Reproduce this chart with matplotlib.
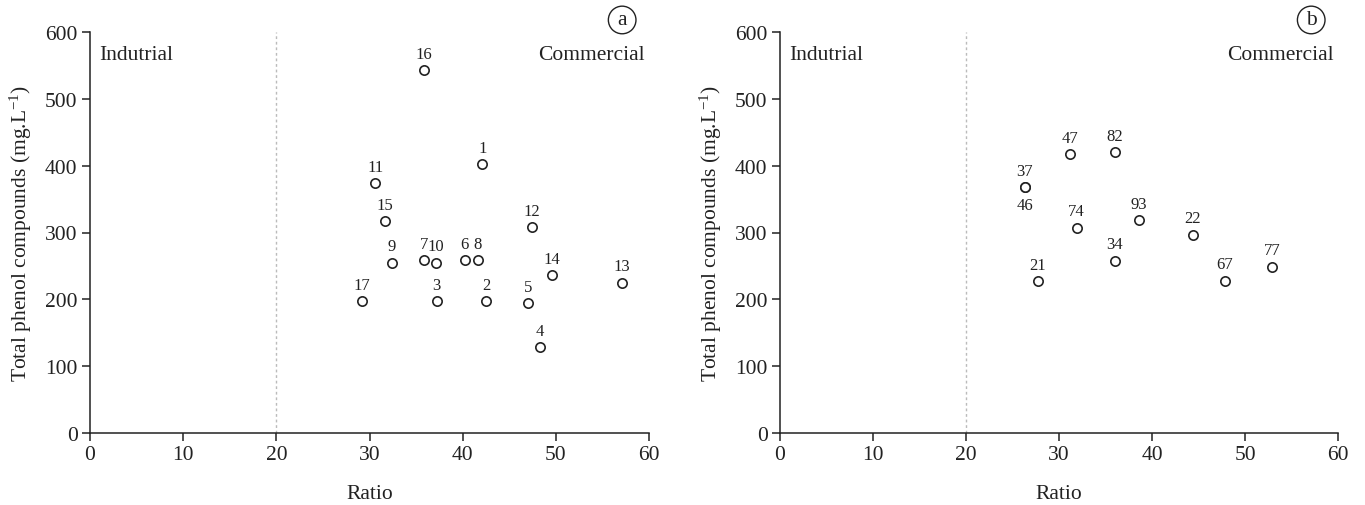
import matplotlib
matplotlib.use("Agg")
import matplotlib.pyplot as plt

plt.rcParams['font.family'] = ['Liberation Serif', 'DejaVu Serif']
plt.rcParams['mathtext.fontset'] = 'custom'
plt.rcParams['mathtext.rm'] = 'Liberation Serif'
plt.rcParams['mathtext.it'] = 'Liberation Serif:italic'

# Panel a
labels_a = ['1', '2', '3', '4', '5', '6', '7', '8', '9', '10', '11', '12', '13', '14', '15', '16', '17']
ratio_a = [42.1, 42.5, 37.2, 48.3, 47.0, 40.2, 35.85, 41.6, 32.4, 37.1, 30.6, 47.45, 57.1, 49.6, 31.7, 35.8, 29.2]
phenol_a = [402, 197, 197, 128, 194, 259, 259, 259, 255, 255, 374, 308, 225, 236, 317, 543, 197]

# Panel b
labels_b = ['21', '22', '34', '37', '46', '47', '67', '74', '77', '82', '93']
ratio_b = [27.7, 44.4, 36.0, 26.3, 26.3, 31.15, 47.85, 31.9, 52.9, 36.0, 38.6]
phenol_b = [227, 297, 258, 368, 368, 417, 228, 307, 249, 420, 318]
below_b = ['46']

xticks = [0, 10, 20, 30, 40, 50, 60]
yticks = [0, 100, 200, 300, 400, 500, 600]

fig = plt.figure(figsize=(13.65, 5.06), dpi=100)
W, H = 1365, 506
axa = fig.add_axes([90 / W, 1 - 434 / H, (649 - 90) / W, (434 - 33) / H])
axb = fig.add_axes([780 / W, 1 - 434 / H, (1338 - 780) / W, (434 - 33) / H])

FS = 15.5

def style(ax, letter, xs, ys, labs, below=()):
    ax.set_xlim(0, 60)
    ax.set_ylim(0, 600)
    ax.set_xticks(xticks)
    ax.set_yticks(yticks)
    for s in ['top', 'right']:
        ax.spines[s].set_visible(False)
    for s in ['left', 'bottom']:
        ax.spines[s].set_linewidth(1.1)
        ax.spines[s].set_color('#222222')
    ax.tick_params(direction='out', length=6, width=1.1, labelsize=FS, colors='#222222', pad=3)
    ax.axvline(20, color='#bbbbbb', linestyle=(0, (2, 2)), linewidth=1)
    ax.scatter(xs, ys, s=45, facecolors='white', edgecolors='#222222', linewidths=1.2, zorder=3)
    for x, y, t in zip(xs, ys, labs):
        if t in below:
            ax.annotate(t, (x, y), xytext=(0, -7), textcoords='offset points',
                        ha='center', va='top', fontsize=12, color='#222222')
        else:
            ax.annotate(t, (x, y), xytext=(0, 6), textcoords='offset points',
                        ha='center', va='bottom', fontsize=12, color='#222222')
    ax.text(1, 567, 'Indutrial', ha='left', va='center', fontsize=FS, color='#222222')
    ax.text(59.5, 567, 'Commercial', ha='right', va='center', fontsize=FS, color='#222222')
    ax.set_xlabel('Ratio', fontsize=FS, labelpad=14, color='#222222')
    ax.set_ylabel('Total phenol compounds (mg.L$^{-1}$)', fontsize=FS, labelpad=8, color='#222222')
    ax.text(0.952, 1.03, letter, transform=ax.transAxes, ha='center', va='center',
            fontsize=FS, color='#222222',
            bbox=dict(boxstyle='circle,pad=0.2', fc='white', ec='#222222', lw=1))

style(axa, 'a', ratio_a, phenol_a, labels_a)
style(axb, 'b', ratio_b, phenol_b, labels_b, below_b)

fig.savefig('out.png', dpi=100)
